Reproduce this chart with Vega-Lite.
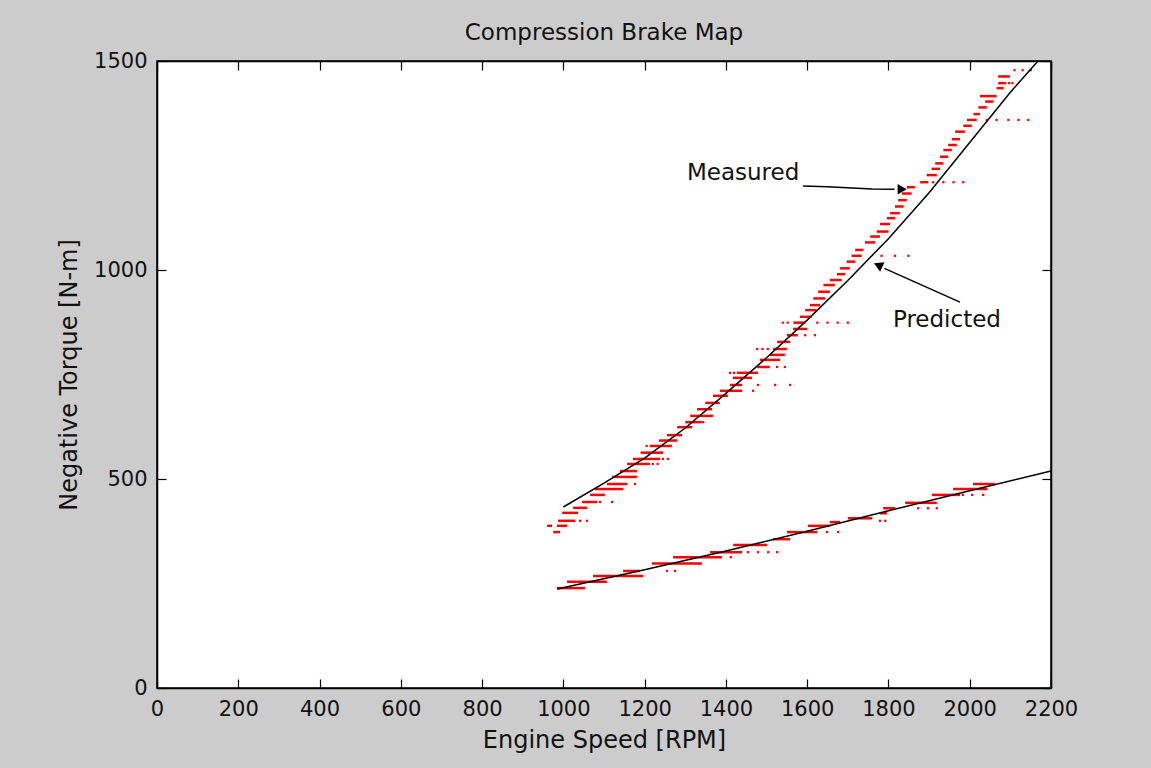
{
  "$schema": "https://vega.github.io/schema/vega-lite/v6.json",
  "width": 894,
  "height": 627,
  "autosize": {"type": "none"},
  "padding": {"left": 157, "top": 61, "right": 100, "bottom": 80},
  "background": "#cccccc",
  "title": {"text": "Compression Brake Map", "font": "DejaVu Sans", "fontSize": 23, "fontWeight": "normal", "color": "#111111", "offset": 5, "anchor": "middle"},
  "config": {
    "view": {"fill": "white", "stroke": "black", "strokeWidth": 1.5},
    "axis": {"grid": false, "domainColor": "black", "domainWidth": 1.5, "tickColor": "black", "tickWidth": 1.2, "tickSize": -9, "labelFont": "DejaVu Sans", "labelFontSize": 21, "labelColor": "#111111", "titleFont": "DejaVu Sans", "titleFontSize": 24, "titleFontWeight": "normal", "titleColor": "#111111", "labelFlush": false, "labelOverlap": false, "format": "d"}
  },
  "datasets": {
    "meas": [
      {"t": 373, "x1": 975, "x2": 992}, {"t": 388, "x1": 960, "x2": 972}, {"t": 388, "x1": 984, "x2": 1009},
      {"t": 400, "x1": 987, "x2": 1029}, {"t": 419, "x1": 997, "x2": 1036}, {"t": 431, "x1": 1024, "x2": 1058},
      {"t": 445, "x1": 1046, "x2": 1083}, {"t": 462, "x1": 1066, "x2": 1102}, {"t": 476, "x1": 1078, "x2": 1147},
      {"t": 488, "x1": 1107, "x2": 1157}, {"t": 505, "x1": 1120, "x2": 1181}, {"t": 519, "x1": 1139, "x2": 1181},
      {"t": 536, "x1": 1157, "x2": 1213}, {"t": 548, "x1": 1171, "x2": 1238}, {"t": 563, "x1": 1190, "x2": 1245},
      {"t": 579, "x1": 1213, "x2": 1267}, {"t": 592, "x1": 1235, "x2": 1280}, {"t": 605, "x1": 1255, "x2": 1292},
      {"t": 624, "x1": 1280, "x2": 1317}, {"t": 636, "x1": 1300, "x2": 1340}, {"t": 651, "x1": 1312, "x2": 1368},
      {"t": 667, "x1": 1329, "x2": 1366}, {"t": 682, "x1": 1349, "x2": 1385}, {"t": 699, "x1": 1368, "x2": 1405},
      {"t": 711, "x1": 1385, "x2": 1440}, {"t": 725, "x1": 1410, "x2": 1440}, {"t": 742, "x1": 1417, "x2": 1464},
      {"t": 754, "x1": 1427, "x2": 1479}, {"t": 768, "x1": 1477, "x2": 1508}, {"t": 785, "x1": 1484, "x2": 1533},
      {"t": 797, "x1": 1508, "x2": 1545}, {"t": 811, "x1": 1516, "x2": 1550}, {"t": 828, "x1": 1526, "x2": 1558},
      {"t": 844, "x1": 1550, "x2": 1577}, {"t": 859, "x1": 1565, "x2": 1600}, {"t": 874, "x1": 1566, "x2": 1595},
      {"t": 888, "x1": 1582, "x2": 1611}, {"t": 904, "x1": 1595, "x2": 1623}, {"t": 916, "x1": 1607, "x2": 1632},
      {"t": 932, "x1": 1615, "x2": 1644}, {"t": 948, "x1": 1627, "x2": 1656}, {"t": 964, "x1": 1640, "x2": 1668},
      {"t": 976, "x1": 1656, "x2": 1685}, {"t": 990, "x1": 1673, "x2": 1693}, {"t": 1004, "x1": 1681, "x2": 1705},
      {"t": 1020, "x1": 1697, "x2": 1718}, {"t": 1034, "x1": 1709, "x2": 1734}, {"t": 1048, "x1": 1718, "x2": 1738},
      {"t": 1066, "x1": 1742, "x2": 1767}, {"t": 1080, "x1": 1755, "x2": 1779}, {"t": 1092, "x1": 1771, "x2": 1800},
      {"t": 1110, "x1": 1779, "x2": 1804}, {"t": 1124, "x1": 1796, "x2": 1816}, {"t": 1136, "x1": 1804, "x2": 1828},
      {"t": 1152, "x1": 1816, "x2": 1837}, {"t": 1167, "x1": 1824, "x2": 1845}, {"t": 1183, "x1": 1833, "x2": 1857},
      {"t": 1198, "x1": 1845, "x2": 1865}, {"t": 1210, "x1": 1878, "x2": 1898}, {"t": 1227, "x1": 1894, "x2": 1919},
      {"t": 1242, "x1": 1906, "x2": 1927}, {"t": 1255, "x1": 1915, "x2": 1935}, {"t": 1271, "x1": 1927, "x2": 1947},
      {"t": 1287, "x1": 1935, "x2": 1956}, {"t": 1299, "x1": 1947, "x2": 1968}, {"t": 1313, "x1": 1956, "x2": 1976},
      {"t": 1331, "x1": 1964, "x2": 1988}, {"t": 1345, "x1": 1984, "x2": 2005}, {"t": 1359, "x1": 1993, "x2": 2017},
      {"t": 1373, "x1": 2009, "x2": 2025}, {"t": 1389, "x1": 2021, "x2": 2042}, {"t": 1403, "x1": 2038, "x2": 2058},
      {"t": 1416, "x1": 2025, "x2": 2066}, {"t": 1435, "x1": 2066, "x2": 2083}, {"t": 1447, "x1": 2070, "x2": 2090},
      {"t": 1463, "x1": 2070, "x2": 2099},
      {"t": 239, "x1": 984, "x2": 1053}, {"t": 254, "x1": 1009, "x2": 1107}, {"t": 268, "x1": 1073, "x2": 1196},
      {"t": 280, "x1": 1147, "x2": 1189}, {"t": 298, "x1": 1218, "x2": 1341}, {"t": 313, "x1": 1270, "x2": 1390},
      {"t": 325, "x1": 1361, "x2": 1440}, {"t": 342, "x1": 1418, "x2": 1501}, {"t": 356, "x1": 1516, "x2": 1558},
      {"t": 373, "x1": 1550, "x2": 1624}, {"t": 388, "x1": 1602, "x2": 1656}, {"t": 397, "x1": 1656, "x2": 1681},
      {"t": 406, "x1": 1700, "x2": 1760}, {"t": 418, "x1": 1779, "x2": 1796}, {"t": 430, "x1": 1787, "x2": 1816},
      {"t": 443, "x1": 1841, "x2": 1919}, {"t": 462, "x1": 1907, "x2": 1976}, {"t": 476, "x1": 1959, "x2": 2043},
      {"t": 488, "x1": 2008, "x2": 2062}
    ],
    "dots": [
      {"t": 1034, "x": 1783}, {"t": 1034, "x": 1816}, {"t": 1034, "x": 1849},
      {"t": 874, "x": 1540}, {"t": 874, "x": 1552}, {"t": 874, "x": 1625}, {"t": 874, "x": 1650}, {"t": 874, "x": 1675}, {"t": 874, "x": 1700},
      {"t": 1210, "x": 1910}, {"t": 1210, "x": 1935}, {"t": 1210, "x": 1960}, {"t": 1210, "x": 1984},
      {"t": 1359, "x": 2042}, {"t": 1359, "x": 2066}, {"t": 1359, "x": 2095}, {"t": 1359, "x": 2120}, {"t": 1359, "x": 2144},
      {"t": 1447, "x": 2097}, {"t": 1447, "x": 2105},
      {"t": 1478, "x": 2110}, {"t": 1478, "x": 2130}, {"t": 1478, "x": 2150},
      {"t": 844, "x": 1595}, {"t": 844, "x": 1619},
      {"t": 811, "x": 1477}, {"t": 811, "x": 1490}, {"t": 811, "x": 1503},
      {"t": 768, "x": 1526}, {"t": 768, "x": 1545},
      {"t": 754, "x": 1410}, {"t": 754, "x": 1420},
      {"t": 725, "x": 1479}, {"t": 725, "x": 1521}, {"t": 725, "x": 1558},
      {"t": 711, "x": 1467}, {"t": 636, "x": 1344},
      {"t": 548, "x": 1245}, {"t": 548, "x": 1257},
      {"t": 536, "x": 1220}, {"t": 536, "x": 1232},
      {"t": 488, "x": 1176}, {"t": 579, "x": 1205},
      {"t": 445, "x": 1090}, {"t": 445, "x": 1120},
      {"t": 400, "x": 1041}, {"t": 400, "x": 1058},
      {"t": 280, "x": 1255}, {"t": 280, "x": 1275},
      {"t": 313, "x": 1412},
      {"t": 325, "x": 1454}, {"t": 325, "x": 1479}, {"t": 325, "x": 1504}, {"t": 325, "x": 1526},
      {"t": 373, "x": 1649}, {"t": 373, "x": 1676},
      {"t": 400, "x": 1779}, {"t": 400, "x": 1792},
      {"t": 430, "x": 1873}, {"t": 430, "x": 1897}, {"t": 430, "x": 1919},
      {"t": 462, "x": 1983}, {"t": 462, "x": 2006}, {"t": 462, "x": 2033}
    ],
    "pred": [
      {"curve": "upper", "x": 1000, "t": 433}, {"curve": "upper", "x": 1100, "t": 490}, {"curve": "upper", "x": 1200, "t": 550},
      {"curve": "upper", "x": 1300, "t": 622}, {"curve": "upper", "x": 1400, "t": 705}, {"curve": "upper", "x": 1500, "t": 790},
      {"curve": "upper", "x": 1600, "t": 880}, {"curve": "upper", "x": 1700, "t": 975}, {"curve": "upper", "x": 1800, "t": 1075},
      {"curve": "upper", "x": 1900, "t": 1185}, {"curve": "upper", "x": 2000, "t": 1305}, {"curve": "upper", "x": 2100, "t": 1425},
      {"curve": "upper", "x": 2168, "t": 1500},
      {"curve": "lower", "x": 985, "t": 237}, {"curve": "lower", "x": 1200, "t": 283}, {"curve": "lower", "x": 1400, "t": 328},
      {"curve": "lower", "x": 1600, "t": 375}, {"curve": "lower", "x": 1800, "t": 424}, {"curve": "lower", "x": 2000, "t": 472},
      {"curve": "lower", "x": 2200, "t": 519}
    ],
    "arrows": [
      {"arrow": "m", "x": 1590, "t": 1201}, {"arrow": "m", "x": 1649, "t": 1199}, {"arrow": "m", "x": 1760, "t": 1194}, {"arrow": "m", "x": 1815, "t": 1193},
      {"arrow": "p", "x": 1976, "t": 923}, {"arrow": "p", "x": 1790, "t": 1004}
    ],
    "heads": [
      {"x": 1830, "t": 1193, "angle": 90},
      {"x": 1778, "t": 1010, "angle": 294}
    ],
    "labels": [
      {"text": "Measured", "x": 1304, "t": 1232},
      {"text": "Predicted", "x": 1811, "t": 880}
    ]
  },
  "resolve": {"axis": {"x": "independent", "y": "independent"}},
  "layer": [
    {
      "data": {"name": "meas"},
      "mark": {"type": "rule", "color": "#ff0000", "strokeWidth": 2.5},
      "encoding": {
        "x": {"field": "x1", "type": "quantitative", "scale": {"domain": [0, 2200], "nice": false}, "axis": {"values": [0,200,400,600,800,1000,1200,1400,1600,1800,2000,2200], "title": "Engine Speed [RPM]", "labelPadding": 19, "titlePadding": 9}},
        "x2": {"field": "x2"},
        "y": {"field": "t", "type": "quantitative", "scale": {"domain": [0, 1500], "nice": false}, "axis": {"values": [0, 500, 1000, 1500], "title": "Negative Torque [N-m]", "labelPadding": 19, "titlePadding": 12}}
      }
    },
    {
      "data": {"name": "dots"},
      "mark": {"type": "square", "color": "#ff0000", "size": 5, "opacity": 1},
      "encoding": {
        "x": {"field": "x", "type": "quantitative", "axis": {"orient": "top", "values": [0,200,400,600,800,1000,1200,1400,1600,1800,2000,2200], "labels": false, "title": null}},
        "y": {"field": "t", "type": "quantitative", "axis": {"orient": "right", "values": [0, 500, 1000, 1500], "labels": false, "title": null}}
      }
    },
    {
      "data": {"name": "pred"},
      "mark": {"type": "line", "color": "black", "strokeWidth": 1.5},
      "encoding": {
        "x": {"field": "x", "type": "quantitative", "axis": null},
        "y": {"field": "t", "type": "quantitative", "axis": null},
        "detail": {"field": "curve"}
      }
    },
    {
      "data": {"name": "arrows"},
      "mark": {"type": "line", "color": "black", "strokeWidth": 1.5},
      "encoding": {
        "x": {"field": "x", "type": "quantitative", "axis": null},
        "y": {"field": "t", "type": "quantitative", "axis": null},
        "detail": {"field": "arrow"}
      }
    },
    {
      "data": {"name": "heads"},
      "mark": {"type": "point", "shape": "triangle", "filled": true, "color": "black", "size": 110, "opacity": 1},
      "encoding": {
        "x": {"field": "x", "type": "quantitative", "axis": null},
        "y": {"field": "t", "type": "quantitative", "axis": null},
        "angle": {"field": "angle", "type": "quantitative", "scale": null}
      }
    },
    {
      "data": {"name": "labels"},
      "mark": {"type": "text", "align": "left", "baseline": "middle", "font": "DejaVu Sans", "fontSize": 23, "color": "#111111"},
      "encoding": {
        "x": {"field": "x", "type": "quantitative", "axis": null},
        "y": {"field": "t", "type": "quantitative", "axis": null},
        "text": {"field": "text"}
      }
    }
  ]
}
